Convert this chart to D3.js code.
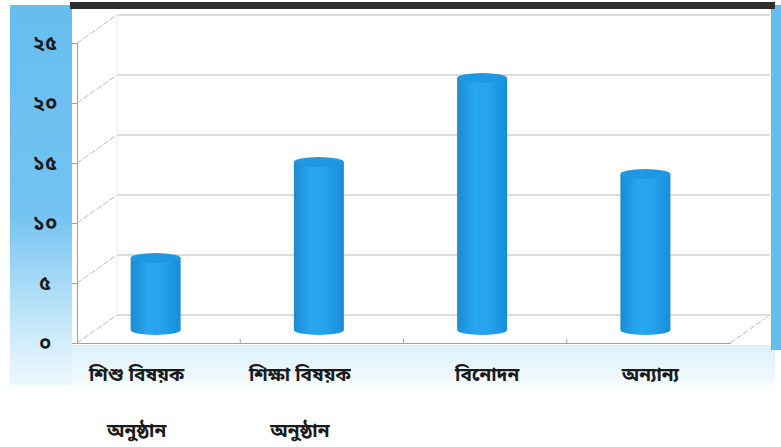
<!DOCTYPE html>
<html>
<head>
<meta charset="utf-8">
<script src="https://cdn.jsdelivr.net/npm/d3@7"></script>
<style>
  html, body { margin: 0; padding: 0; background: #ffffff; }
  svg { display: block; }
  text { font-family: "Noto Sans Bengali", "Noto Sans", "Lato", sans-serif; font-weight: 700; fill: #1a1a1a; }
</style>
</head>
<body>
<svg id="chart" width="781" height="447"></svg>
<script>
// Programme categories (two-line labels split by "\n")
const categories = ["শিশু বিষয়ক\nঅনুষ্ঠান", "শিক্ষা বিষয়ক\nঅনুষ্ঠান", "বিনোদন", "অন্যান্য"];
const values = [6, 14, 21, 13];
const tickValues = [0, 5, 10, 15, 20, 25];
const tickLabels = ["০", "৫", "১০", "১৫", "২০", "২৫"];

const W = 781, H = 447;
const svg = d3.select("#chart");
const defs = svg.append("defs");

// Frame geometry: front plane plus a receding back wall
const front = { left: 77, right: 730, bottom: 343 };
const depth = { dx: 40, dy: -28 };

const x = d3.scaleBand().domain(categories).range([front.left, front.right]).paddingInner(0).paddingOuter(0);
const y = d3.scaleLinear().domain([0, 25]).range([front.bottom, front.bottom - 300]);

// Background decoration: blue side strips and pale lower band
const leftGrad = defs.append("linearGradient").attr("id", "leftStrip").attr("x1", 0).attr("y1", 0).attr("x2", 0).attr("y2", 1);
leftGrad.append("stop").attr("offset", "0%").attr("stop-color", "#66bdf0");
leftGrad.append("stop").attr("offset", "55%").attr("stop-color", "#74c3f1");
leftGrad.append("stop").attr("offset", "85%").attr("stop-color", "#c8e9fa");
leftGrad.append("stop").attr("offset", "100%").attr("stop-color", "#eef8fd");

const bandGrad = defs.append("linearGradient").attr("id", "lowBand").attr("x1", 0).attr("y1", 0).attr("x2", 0).attr("y2", 1);
bandGrad.append("stop").attr("offset", "0%").attr("stop-color", "#dcf1fb");
bandGrad.append("stop").attr("offset", "70%").attr("stop-color", "#eef8fd");
bandGrad.append("stop").attr("offset", "100%").attr("stop-color", "#ffffff");

svg.append("rect").attr("x", 10).attr("y", 345).attr("width", 765).attr("height", 45).attr("fill", "url(#lowBand)");
svg.append("rect").attr("x", 10).attr("y", 5).attr("width", 62).attr("height", 380).attr("fill", "url(#leftStrip)");
svg.append("rect").attr("x", 771).attr("y", 5).attr("width", 10).attr("height", 345).attr("fill", "#66bbef");
svg.append("rect").attr("x", 72).attr("y", 10).attr("width", 699).attr("height", 335).attr("fill", "#ffffff");
svg.append("rect").attr("x", 70).attr("y", 2).attr("width", 705).attr("height", 7).attr("fill", "#2e2e2e");

const grid = svg.append("g").attr("stroke", "#b8b8b8").attr("stroke-width", 1).attr("fill", "none");

// Back-wall gridlines and the diagonals joining them to the front axis
tickValues.forEach(v => {
  const yf = y(v), yb = y(v) + depth.dy;
  grid.append("line").attr("x1", front.left + depth.dx).attr("x2", front.right + depth.dx)
    .attr("y1", yb).attr("y2", yb);
  grid.append("line").attr("x1", front.left).attr("y1", yf)
    .attr("x2", front.left + depth.dx).attr("y2", yb).attr("stroke-dasharray", "6,2");
});

// Back wall left edge and floor
grid.append("line").attr("x1", front.left + depth.dx).attr("x2", front.left + depth.dx)
  .attr("y1", y(25) + depth.dy).attr("y2", y(0) + depth.dy).attr("stroke", "#ececec");
grid.append("line").attr("x1", front.right).attr("y1", y(0))
  .attr("x2", front.right + depth.dx).attr("y2", y(0) + depth.dy).attr("stroke-dasharray", "6,2");

// Front value axis with Bengali tick labels
const yAxis = d3.axisLeft(y).tickValues(tickValues).tickSize(5).tickFormat((d, i) => tickLabels[i]);
const yg = svg.append("g").attr("transform", `translate(${front.left},0)`).call(yAxis);
yg.select(".domain").attr("stroke", "#a0a0a0");
yg.selectAll(".tick line").attr("stroke", "#a0a0a0");
yg.selectAll(".tick text").attr("x", -32).attr("text-anchor", "middle")
  .style("font-size", "20px").style("font-weight", "700").attr("fill", "#222");

// Front floor edge with category dividers
const xAxis = d3.axisBottom(x).tickSize(0).tickFormat("");
const xg = svg.append("g").attr("transform", `translate(0,${front.bottom})`).call(xAxis);
xg.select(".domain").attr("stroke", "#a0a0a0");
categories.slice(1).forEach(c => {
  xg.append("line").attr("x1", x(c)).attr("x2", x(c)).attr("y1", 0).attr("y2", -4).attr("stroke", "#a0a0a0");
});

// Cylinder shading
const bodyGrad = defs.append("linearGradient").attr("id", "cylBody").attr("x1", 0).attr("y1", 0).attr("x2", 1).attr("y2", 0);
bodyGrad.append("stop").attr("offset", "0%").attr("stop-color", "#1a8cd6");
bodyGrad.append("stop").attr("offset", "35%").attr("stop-color", "#28a6ee");
bodyGrad.append("stop").attr("offset", "65%").attr("stop-color", "#24a2ec");
bodyGrad.append("stop").attr("offset", "100%").attr("stop-color", "#188cd8");

const cylW = 50, ry = 5;
const baseOffset = 13; // bars stand part-way into the floor depth
const bars = svg.append("g");
categories.forEach((c, i) => {
  const cx = x(c) + x.bandwidth() / 2 - 3;
  const yb = y(0) - baseOffset;
  const yt = y(values[i]) - baseOffset;
  const g = bars.append("g");
  g.append("path")
    .attr("d", `M${cx - cylW / 2},${yt} L${cx - cylW / 2},${yb} A${cylW / 2},${ry} 0 0 0 ${cx + cylW / 2},${yb} L${cx + cylW / 2},${yt} Z`)
    .attr("fill", "url(#cylBody)");
  g.append("ellipse").attr("cx", cx).attr("cy", yt).attr("rx", cylW / 2).attr("ry", ry)
    .attr("fill", "#1f98e2");
});

// Category labels; wrapped ones sit a little left with a wide line gap
const labels = svg.append("g");
categories.forEach(c => {
  const lines = c.split("\n");
  const lx = x(c) + x.bandwidth() / 2 + (lines.length > 1 ? -22 : 2);
  const t = labels.append("text").attr("x", lx).attr("y", 381)
    .attr("text-anchor", "middle").style("font-size", "19px");
  lines.forEach((ln, k) => {
    t.append("tspan").attr("x", lx).attr("dy", k === 0 ? 0 : 56).text(ln);
  });
});
</script>
</body>
</html>
